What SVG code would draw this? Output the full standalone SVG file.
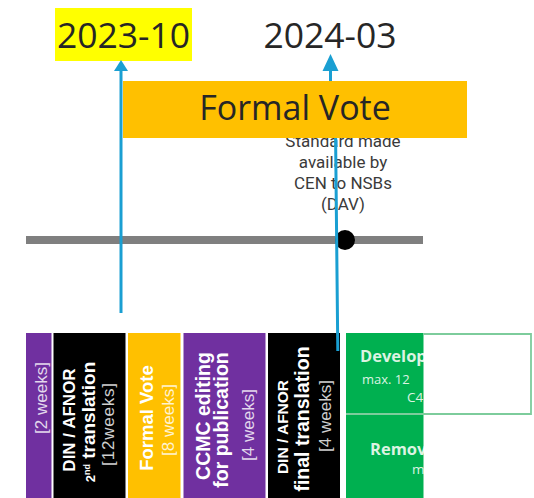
<svg xmlns="http://www.w3.org/2000/svg" width="534" height="498" viewBox="0 0 534 498">
<style>
.cal{font-family:"Open Sans","Liberation Sans",sans-serif;fill:#262626}
.rob{font-family:Roboto,"Liberation Sans",sans-serif;font-size:17px;fill:#3a3a3a;text-anchor:middle}
.b{font-family:"Liberation Sans",Arial,sans-serif;font-weight:bold;fill:#fff;text-anchor:middle}
.r{font-family:"Liberation Sans",Arial,sans-serif;fill:#fff;fill-opacity:0.82;text-anchor:middle;font-size:17px}
.g{font-family:"Open Sans","Liberation Sans",sans-serif;fill:#dcf3e2}
.blue{stroke:#1a9fd2;stroke-width:3;fill:none}
</style>
<rect width="534" height="498" fill="#fff"/>

<g id="date-2023-10">
<rect x="55" y="8" width="137" height="53" fill="#ffff00"/>
<text class="cal" x="123.5" y="48" font-size="35.5" text-anchor="middle">2023-10</text>
</g>
<g id="date-2024-03">
<text class="cal" x="330" y="48" font-size="35.5" text-anchor="middle">2024-03</text>
</g>

<g id="dav-label">
<text class="rob" x="343" y="147">Standard made</text>
<text class="rob" x="343" y="168">available by</text>
<text class="rob" x="343" y="189">CEN to NSBs</text>
<text class="rob" x="343" y="210">(DAV)</text>
</g>

<g id="timeline">
<rect x="26" y="236" width="397" height="8" fill="#7f7f7f"/>
<circle cx="345" cy="240" r="10" fill="#000"/>
</g>

<g id="col-1">
<rect x="26" y="333" width="25.5" height="165" fill="#7030a0"/>
<text class="r" transform="translate(0,398) rotate(-90)" x="0" y="47" fill="#d6c6ea">[2 weeks]</text>
</g>
<g id="col-2nd-translation">
<rect x="53.5" y="333" width="72" height="165" fill="#000"/>
<g transform="translate(0,420) rotate(-90)">
<text class="b" x="0" y="75" font-size="17">DIN / AFNOR</text>
<text class="b" x="-2" y="95" font-size="19"><tspan font-size="13">2</tspan><tspan font-size="9" dy="-5">nd</tspan><tspan dy="5"> translation</tspan></text>
<text class="r" x="-4" y="114" letter-spacing="0.8">[12weeks]</text>
</g>
</g>
<g id="col-formal-vote">
<rect x="128" y="333" width="52.5" height="165" fill="#ffc000"/>
<g transform="translate(0,418) rotate(-90)">
<text class="b" x="0" y="153" font-size="18.5">Formal Vote</text>
<text class="r" x="-2" y="174" fill="#fff6d6">[8 weeks]</text>
</g>
</g>
<g id="col-ccmc">
<rect x="183.5" y="333" width="82" height="165" fill="#7030a0"/>
<g transform="translate(0,418) rotate(-90)">
<text class="b" x="2" y="210" font-size="19.5">CCMC editing</text>
<text class="b" x="-2" y="228" font-size="19.5">for publication</text>
<text class="r" x="-7" y="254" fill="#e0d4f0">[4 weeks]</text>
</g>
</g>
<g id="col-final-translation">
<rect x="268" y="333" width="72" height="165" fill="#000"/>
<g transform="translate(0,420) rotate(-90)">
<text class="b" x="-7" y="288" font-size="15.5">DIN / AFNOR</text>
<text class="b" x="1" y="309" font-size="19.5">final translation</text>
<text class="r" x="4" y="331">[4 weeks]</text>
</g>
</g>
<g id="col-green">
<rect x="346" y="333" width="78" height="165" fill="#00b050"/>
<text class="g" x="360" y="362" font-size="16.5" font-weight="bold">Develop</text>
<text class="g" x="362" y="384" font-size="13">max. 12</text>
<text class="g" x="407" y="402" font-size="13.5">C4</text>
<text class="g" x="370" y="455" font-size="16.5" font-weight="bold">Remov</text>
<text class="g" x="412" y="474" font-size="13.5">m</text>
<rect x="423.5" y="333" width="110.5" height="165" fill="#fff"/>
<path d="M423.5,334 H531 V414 H346" fill="none" stroke="#7dcc9c" stroke-width="1.8"/>
</g>

<g id="connectors">
<line class="blue" x1="121" y1="70" x2="121" y2="313"/>
<path d="M121,60 L114,71 L128,71 Z" fill="#1a9fd2"/>
<polyline class="blue" points="330.5,68 330.5,84 335.6,138 337.8,351"/>
<path d="M330.5,54 L322.5,71 L338.5,71 Z" fill="#1a9fd2"/>
</g>

<g id="formal-vote-bar">
<rect x="123" y="81" width="344" height="57" fill="#ffc000"/>
<text class="cal" x="295" y="120" font-size="34" text-anchor="middle">Formal Vote</text>
</g>
</svg>
